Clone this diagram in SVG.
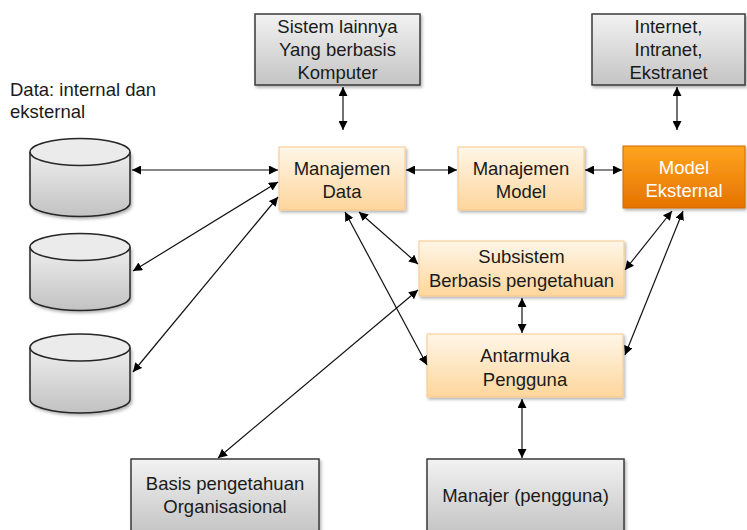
<svg xmlns="http://www.w3.org/2000/svg" width="747" height="530" viewBox="0 0 747 530">
<defs>
<linearGradient id="gGray" x1="0" y1="0" x2="0" y2="1"><stop offset="0" stop-color="#f2f2f2"/><stop offset="1" stop-color="#c4c4c4"/></linearGradient>
<linearGradient id="gLight" x1="0" y1="0" x2="0" y2="1"><stop offset="0" stop-color="#fff6e8"/><stop offset="1" stop-color="#fdd69c"/></linearGradient>
<linearGradient id="gOrange" x1="0" y1="0" x2="0" y2="1"><stop offset="0" stop-color="#ffa41f"/><stop offset="1" stop-color="#e57300"/></linearGradient>
<linearGradient id="gCyl" x1="0" y1="0" x2="0" y2="1"><stop offset="0" stop-color="#eeeeee"/><stop offset="1" stop-color="#c2c2c2"/></linearGradient>
<filter id="sh" x="-10%" y="-10%" width="130%" height="140%"><feDropShadow dx="1.5" dy="2" stdDeviation="1.5" flood-color="#000" flood-opacity="0.3"/></filter>
<marker id="ah" viewBox="0 0 10 10" refX="10" refY="5" markerWidth="9" markerHeight="9" markerUnits="userSpaceOnUse" orient="auto-start-reverse"><path d="M0,0 L10,5 L0,10 z" fill="#000"/></marker>
</defs>
<style>
text{font-family:"Liberation Sans",Arial,sans-serif;font-size:18.5px;fill:#1a1a1a;text-anchor:middle}
.gray{fill:url(#gGray);stroke:#3a3a3a;stroke-width:1.5}
.light{fill:url(#gLight);stroke:#f7c88c;stroke-width:1}
.orange{fill:url(#gOrange);stroke:#d06a00;stroke-width:1}
.cyl{fill:url(#gCyl);stroke:#262626;stroke-width:1.5}
.top{fill:#ebebeb;stroke:#262626;stroke-width:1.5}
.c{fill:none;stroke:#111;stroke-width:1.2;marker-start:url(#ah);marker-end:url(#ah)}
.w{fill:#fff}
.lbl{text-anchor:start}
</style>
<text class="lbl" x="10" y="96">Data: internal dan</text>
<text class="lbl" x="10" y="118">eksternal</text>
<g id="cyl1"><path class="cyl" d="M30,152 L30,203 A50,13.5 0 0 0 130,203 L130,152" filter="url(#sh)"/><ellipse class="top" cx="80" cy="152" rx="50" ry="13.5"/></g>
<g id="cyl2"><path class="cyl" d="M30,247 L30,297 A50,13.5 0 0 0 130,297 L130,247" filter="url(#sh)"/><ellipse class="top" cx="80" cy="247" rx="50" ry="13.5"/></g>
<g id="cyl3"><path class="cyl" d="M30,347.5 L30,399.5 A50,13.5 0 0 0 130,399.5 L130,347.5" filter="url(#sh)"/><ellipse class="top" cx="80" cy="347.5" rx="50" ry="13.5"/></g>
<g id="sistem"><rect class="gray" x="255" y="14" width="165" height="71" filter="url(#sh)"/><text x="337.5" y="33">Sistem lainnya</text><text x="337.5" y="56">Yang berbasis</text><text x="337.5" y="79">Komputer</text></g>
<g id="internet"><rect class="gray" x="592" y="14" width="153" height="71" filter="url(#sh)"/><text x="668.5" y="33">Internet,</text><text x="668.5" y="56">Intranet,</text><text x="668.5" y="79">Ekstranet</text></g>
<g id="mdata"><rect class="light" x="279" y="147" width="126" height="63" filter="url(#sh)"/><text x="342" y="175">Manajemen</text><text x="342" y="198">Data</text></g>
<g id="mmodel"><rect class="light" x="458" y="147" width="126" height="63" filter="url(#sh)"/><text x="521" y="175">Manajemen</text><text x="521" y="198">Model</text></g>
<g id="meks"><rect class="orange" x="623" y="146" width="122" height="62" filter="url(#sh)"/><text class="w" x="684" y="174">Model</text><text class="w" x="684" y="197">Eksternal</text></g>
<g id="subsistem"><rect class="light" x="419" y="241" width="205" height="55" filter="url(#sh)"/><text x="521.5" y="263">Subsistem</text><text x="521.5" y="287">Berbasis pengetahuan</text></g>
<g id="antarmuka"><rect class="light" x="427" y="334" width="196" height="63" filter="url(#sh)"/><text x="525" y="362">Antarmuka</text><text x="525" y="386">Pengguna</text></g>
<g id="basis"><rect class="gray" x="131" y="459" width="188" height="75" filter="url(#sh)"/><text x="225" y="490">Basis pengetahuan</text><text x="225" y="513">Organisasional</text></g>
<g id="manajer"><rect class="gray" x="427" y="459" width="197" height="75" filter="url(#sh)"/><text x="525.5" y="502">Manajer (pengguna)</text></g>
<g id="connectors">
<line class="c" x1="343" y1="87" x2="343" y2="130"/>
<line class="c" x1="677" y1="87" x2="677" y2="130"/>
<line class="c" x1="132" y1="170" x2="278" y2="170"/>
<line class="c" x1="133" y1="271" x2="278" y2="182"/>
<line class="c" x1="133" y1="372" x2="278" y2="197"/>
<line class="c" x1="406" y1="170" x2="457" y2="170"/>
<line class="c" x1="585" y1="170" x2="622" y2="170"/>
<line class="c" x1="359" y1="212" x2="418" y2="264"/>
<line class="c" x1="345" y1="212" x2="427" y2="365"/>
<line class="c" x1="672" y1="211" x2="625" y2="270"/>
<line class="c" x1="683" y1="211" x2="625" y2="355"/>
<line class="c" x1="522" y1="298" x2="522" y2="333"/>
<line class="c" x1="522" y1="399" x2="522" y2="458"/>
<line class="c" x1="418" y1="290" x2="218" y2="458"/>
</g>
</svg>
